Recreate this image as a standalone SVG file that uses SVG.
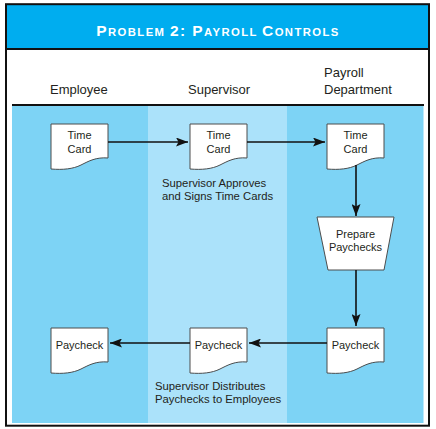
<svg xmlns="http://www.w3.org/2000/svg" width="436" height="429" viewBox="0 0 436 429">
<style>
  .hdr{font-family:"Liberation Sans",Arial,sans-serif;font-size:13px;fill:#231f20}
  .lbl{font-family:"Liberation Sans",Arial,sans-serif;font-size:11.3px;fill:#231f20}
  .doc{fill:#fff;stroke:#4d4d4d;stroke-width:1}
  .dt{font-family:"Liberation Sans",Arial,sans-serif;font-size:11px;fill:#231f20;text-anchor:middle}
  .conn{stroke:#111;stroke-width:1.6;fill:none;marker-end:url(#ah)}
  .title{font-family:"Liberation Sans",Arial,sans-serif;font-weight:bold;fill:#fff;letter-spacing:1.4px}
  .big{font-size:15.5px}
  .sm{font-size:11.3px}
</style>
<defs>
  <marker id="ah" markerUnits="userSpaceOnUse" markerWidth="13" markerHeight="9" refX="12" refY="4.5" orient="auto">
    <path d="M0,0 L12,4.5 L0,9 L2.5,4.5 Z" fill="#111"/>
  </marker>
</defs>
<rect x="0" y="0" width="436" height="429" fill="#fff"/>
<rect x="6" y="5" width="423" height="44" fill="#00adef"/>
<text class="title" x="218" y="36" text-anchor="middle"><tspan class="big">P</tspan><tspan class="sm">ROBLEM </tspan><tspan class="big">2: P</tspan><tspan class="sm">AYROLL </tspan><tspan class="big">C</tspan><tspan class="sm">ONTROLS</tspan></text>
<line x1="6" y1="49" x2="429" y2="49" stroke="#111" stroke-width="2"/>
<rect x="6" y="4.2" width="423" height="421.5" fill="none" stroke="#111" stroke-width="2"/>

<text class="hdr" x="50" y="94">Employee</text>
<text class="hdr" x="188" y="94">Supervisor</text>
<text class="hdr" x="324" y="77">Payroll</text>
<text class="hdr" x="324" y="94">Department</text>

<g id="lanes">
  <rect x="12" y="105" width="136" height="318" fill="#7dd3f5"/>
  <rect x="148" y="105" width="139" height="318" fill="#abe2fa"/>
  <rect x="287" y="105" width="136.5" height="318" fill="#7dd3f5"/>
  <line x1="12" y1="105" x2="424" y2="105" stroke="#111" stroke-width="2"/>
</g>

<g id="n1">
  <path class="doc" d="M51,124 H108 V158 C96,157 89,161 81,165 C73,169 63,170 51,169 Z"/>
  <text class="dt" x="79.5" y="139">Time</text><text class="dt" x="79.5" y="153">Card</text>
</g>
<g id="n2">
  <path class="doc" d="M190,124 H247 V158 C235,157 228,161 220,165 C212,169 202,170 190,169 Z"/>
  <text class="dt" x="218.5" y="139">Time</text><text class="dt" x="218.5" y="153">Card</text>
</g>
<g id="n3">
  <path class="doc" d="M327,124 H384 V158 C372,157 365,161 357,165 C349,169 339,170 327,169 Z"/>
  <text class="dt" x="355.5" y="139">Time</text><text class="dt" x="355.5" y="153">Card</text>
</g>
<g id="n4">
  <path class="doc" d="M317,217 H394 L384,270 H328 Z"/>
  <text class="dt" x="355.5" y="238">Prepare</text><text class="dt" x="355.5" y="251">Paychecks</text>
</g>
<g id="n5">
  <path class="doc" d="M327,328 H384 V362 C372,361 365,365 357,369 C349,373 339,374 327,373 Z"/>
  <text class="dt" x="355.5" y="349">Paycheck</text>
</g>
<g id="n6">
  <path class="doc" d="M190,328 H247 V362 C235,361 228,365 220,369 C212,373 202,374 190,373 Z"/>
  <text class="dt" x="218.5" y="349">Paycheck</text>
</g>
<g id="n7">
  <path class="doc" d="M51,328 H108 V362 C96,361 89,365 81,369 C73,373 63,374 51,373 Z"/>
  <text class="dt" x="79.5" y="349">Paycheck</text>
</g>

<g id="labels">
  <text class="lbl" x="162" y="187">Supervisor Approves</text>
  <text class="lbl" x="162" y="200">and Signs Time Cards</text>
  <text class="lbl" x="155" y="390">Supervisor Distributes</text>
  <text class="lbl" x="155" y="403">Paychecks to Employees</text>
</g>

<g id="connectors">
  <path class="conn" d="M108,142 H188"/>
  <path class="conn" d="M247,142 H325"/>
  <path class="conn" d="M356,165 V216"/>
  <path class="conn" d="M356,270 V326"/>
  <path class="conn" d="M327,343 H249"/>
  <path class="conn" d="M190,343 H110"/>
</g>
</svg>
